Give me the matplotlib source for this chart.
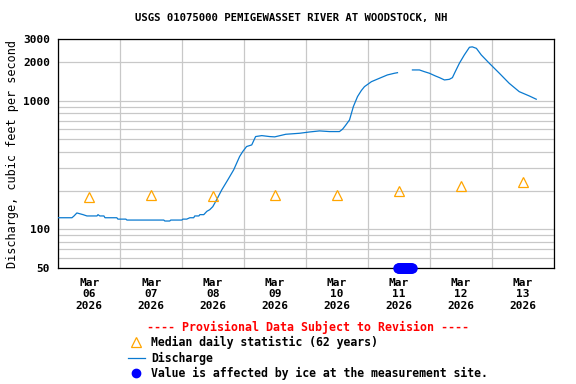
import matplotlib
matplotlib.use('Agg')

import numpy as np
import pandas as pd
import matplotlib.pyplot as plt
import matplotlib.dates as mdates
from matplotlib.lines import Line2D

# discharge readings, hours after 2026-03-06 00:00 (NaN = ice gap)
q_hours = [0, 5.3, 6.1, 7.2, 8.4, 9.6, 11.1, 15.0, 15.4, 16.1, 17.7, 18.1, 22.7,
           23.1, 26.2, 26.6, 40.9, 41.3, 43.2, 43.6, 47.9, 48.3, 49.8, 51.0, 52.5,
           52.9, 54.5, 54.9, 56.4, 57.6, 58.7, 59.9, 61.4, 63.4, 65.7, 68.0, 70.3,
           71.5, 73.0, 75.0, 76.5, 78.9, 81.9, 83.9, 88.2, 93.6, 97.4, 101.3, 105.1,
           109.0, 110.2, 111.3, 112.9, 114.4, 116.0, 117.5, 118.7, 121.4, 124.5,
           127.6, 130.3, 131.5, 134.0, 137.3, 140.0, 141.9, 143.9, 146.2, 147.8,
           149.7, 151.6, 152.8, 153.9, 155.5, 157.4, 159.4, 160.5, 162.1, 164.0,
           167.1, 171.0, 174.8, 178.7, 182.6, 185.3]
q_cfs = [123, 123, 127, 134, 132, 130, 127, 127, 130, 127, 127, 123, 123,
         120, 120, 118, 118, 116, 116, 118, 118, 120, 120, 123, 123,
         127, 127, 130, 130, 138, 142, 150, 170, 203, 242, 290, 368,
         402, 440, 453, 526, 535, 526, 523, 548, 558, 571, 582, 575,
         575, 600, 640, 708, 900, 1075, 1200, 1285, 1405, 1493,
         1585, 1633, 1650, np.nan, 1733, 1733, 1681, 1633, 1556, 1510,
         1449, 1465, 1510, 1681, 1953, 2265, 2600, 2620, 2550, 2265,
         1953, 1633, 1365, 1175, 1088, 1026]

# median daily statistic at noon of each day
median_hours = [12, 36, 60, 84, 108, 132, 156, 180]
median_cfs = [177, 184, 181, 184, 184, 199, 217, 233]

# ice-affected values (drawn at bottom of axis)
ice_hours = [131.75, 132.0, 132.25, 132.5, 132.75, 133.0, 133.25, 133.5, 133.75,
             134.0, 134.25, 134.5, 134.75, 135.0, 135.25, 135.5, 135.75, 136.0,
             136.25, 136.5, 136.75, 137.0]
ice_cfs = [50] * len(ice_hours)

start = pd.Timestamp('2026-03-06')
def to_time(h):
    return start + pd.to_timedelta(h, unit='h')

plt.rcParams['font.family'] = 'DejaVu Sans Mono'
plt.rcParams['font.weight'] = 'bold'

fig = plt.figure(figsize=(5.76, 3.84), dpi=100)
ax = fig.add_axes([0.1012, 0.302, 0.8598, 0.5957])

blue = '#0a7ad0'
ax.plot(to_time(q_hours), q_cfs, color=blue, lw=0.9, zorder=3)
ax.plot(to_time(median_hours), median_cfs, ls='none', marker='^', ms=7,
        mfc='none', mec='#ffa500', mew=0.9, zorder=4)
ax.plot(to_time(ice_hours), ice_cfs, ls='none', marker='o', ms=6.5,
        color='#0000ff', clip_on=False, zorder=5)

ax.set_yscale('log')
ax.set_ylim(50, 3000)
ax.set_xlim(start, start + pd.Timedelta(days=8))

ax.set_yticks([50, 100, 1000, 2000, 3000])
ax.set_yticklabels(['50', '100', '1000', '2000', '3000'])
ax.yaxis.set_minor_locator(matplotlib.ticker.FixedLocator(
    [60, 70, 80, 90, 200, 300, 400, 500, 600, 700, 800, 900]))
ax.yaxis.set_minor_formatter(matplotlib.ticker.NullFormatter())

ax.xaxis.set_major_locator(mdates.HourLocator(byhour=[12]))
ax.xaxis.set_major_formatter(mdates.DateFormatter('%b\n%d\n%Y'))
ax.xaxis.set_minor_locator(mdates.DayLocator())

ax.tick_params(which='both', length=0, labelsize=8)
ax.tick_params(axis='y', pad=6)
ax.tick_params(axis='x', pad=7)
for lab in ax.get_xticklabels():
    lab.set_linespacing(1.2)

ax.grid(False, which='major', axis='x')
ax.grid(True, which='minor', axis='x', color='#c8c8c8', lw=0.9)
ax.grid(True, which='both', axis='y', color='#c8c8c8', lw=0.9)
ax.set_axisbelow(True)
for s in ax.spines.values():
    s.set_linewidth(0.9)

ax.set_ylabel('Discharge, cubic feet per second', fontsize=8.5, labelpad=3)
fig.text(0.506, 0.952, 'USGS 01075000 PEMIGEWASSET RIVER AT WOODSTOCK, NH',
         ha='center', va='center', fontsize=7.7, fontweight='bold')

handles = [Line2D([], [], ls='none', marker='^', ms=7, mfc='none', mec='#ffa500', mew=0.9),
           Line2D([], [], color=blue, lw=0.9),
           Line2D([], [], ls='none', marker='o', ms=6, color='#0000ff')]
labels = ['Median daily statistic (62 years)', 'Discharge',
          'Value is affected by ice at the measurement site.']
leg = fig.legend(handles, labels, loc='upper center',
                 bbox_to_anchor=(308 / 576, 1 - 321 / 384),
                 frameon=False, fontsize=8.3, borderpad=0, borderaxespad=0,
                 handlelength=1.5, handletextpad=0.55, labelspacing=0.2,
                 title='---- Provisional Data Subject to Revision ----',
                 title_fontproperties={'size': 8.4, 'weight': 'bold',
                                       'family': 'DejaVu Sans Mono'})
leg.get_title().set_color('#ff0000')

fig.savefig('out.png', dpi=100)
